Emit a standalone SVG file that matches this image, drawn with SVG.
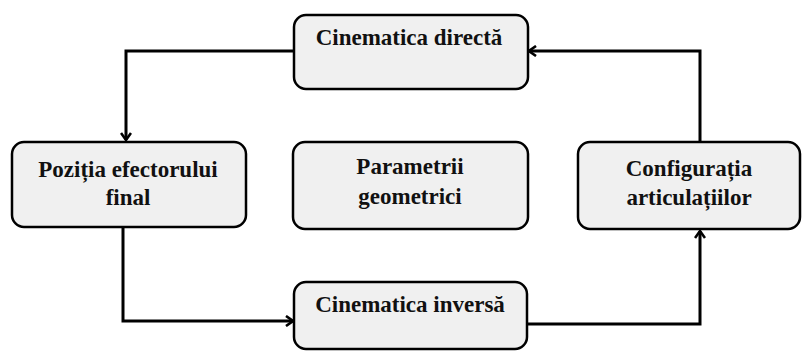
<svg xmlns="http://www.w3.org/2000/svg" width="802" height="351" viewBox="0 0 802 351">
<defs>
<style>
.box{fill:#f0f0f0;stroke:#000;stroke-width:2.5}
.c{fill:none;stroke:#000;stroke-width:3}
</style>
<marker id="ah" viewBox="0 0 12 12" refX="11" refY="6" markerWidth="12" markerHeight="12" markerUnits="userSpaceOnUse" orient="auto">
<path d="M4,1 L11,6 L4,11" fill="none" stroke="#000" stroke-width="2.6"/>
</marker>
</defs>
<g id="connectors">
<path class="c" d="M294,51 H126 V140" marker-end="url(#ah)"/>
<path class="c" d="M123,228 V321 H293" marker-end="url(#ah)"/>
<path class="c" d="M527,324 H700 V231" marker-end="url(#ah)"/>
<path class="c" d="M700,142 V51 H529" marker-end="url(#ah)"/>
</g>
<g font-family="'Liberation Serif', 'Times New Roman', serif" font-weight="bold" font-size="23" fill="#111" text-anchor="middle">
<g id="n-directa">
<rect class="box" x="294" y="15" width="234" height="74" rx="12"/>
<text x="409" y="45">Cinematica directă</text>
</g>
<g id="n-pozitia">
<rect class="box" x="12" y="142" width="234" height="85" rx="12"/>
<text x="128" y="177">Poziția efectorului</text>
<text x="128" y="205">final</text>
</g>
<g id="n-parametrii">
<rect class="box" x="293" y="142" width="235" height="87" rx="12"/>
<text x="410" y="174">Parametrii</text>
<text x="410" y="204">geometrici</text>
</g>
<g id="n-configuratia">
<rect class="box" x="578" y="142" width="222" height="87" rx="12"/>
<text x="689" y="176">Configurația</text>
<text x="689" y="205">articulațiilor</text>
</g>
<g id="n-inversa">
<rect class="box" x="294" y="282" width="233" height="67" rx="12"/>
<text x="410" y="312">Cinematica inversă</text>
</g>
</g>
</svg>
